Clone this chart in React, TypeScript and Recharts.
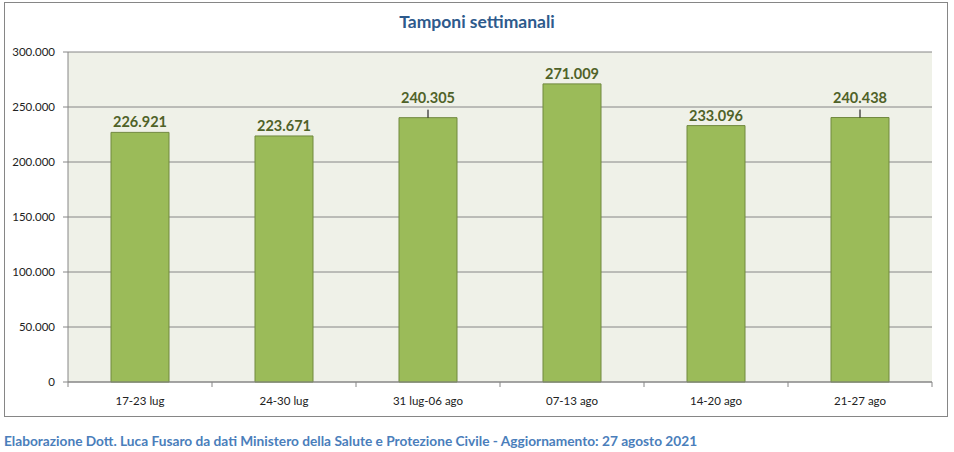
import React from "react";
import { BarChart, Bar, XAxis, YAxis, CartesianGrid, LabelList } from "recharts";

const categories = ["17-23 lug", "24-30 lug", "31 lug-06 ago", "07-13 ago", "14-20 ago", "21-27 ago"];
const tamponi = [226921, 223671, 240305, 271009, 233096, 240438];
const yTicks = [0, 50000, 100000, 150000, 200000, 250000, 300000];
const liftedLabels = ["31 lug-06 ago", "21-27 ago"];

const data = categories.map((c, i) => ({ cat: c, v: tamponi[i] }));

const W = 954;
const H = 452;
const LEFT = 68;
const RIGHT = 932;
const TOP = 52;
const BOTTOM = 382;
const BAND = (RIGHT - LEFT) / categories.length;
const FONT = "Lato, 'Open Sans', sans-serif";

const fmtDots = (n: number) => {
  const s = Math.round(n).toString();
  return s.replace(/\B(?=(\d{3})+(?!\d))/g, ".");
};

const XTick = (props: any) => {
  const { x, y, payload, index } = props;
  return (
    <g>
      <line x1={x - BAND / 2} y1={y} x2={x - BAND / 2} y2={y + 5} stroke="#868686" />
      {index === categories.length - 1 && (
        <line x1={x + BAND / 2} y1={y} x2={x + BAND / 2} y2={y + 5} stroke="#868686" />
      )}
      <text x={x} y={y + 23} textAnchor="middle" fontSize={11.5} fontFamily={FONT} fill="#222">
        {payload.value}
      </text>
    </g>
  );
};

const BarLabel = (props: any) => {
  const { x, y, width, value, index } = props;
  const cx = x + width / 2;
  const lifted = liftedLabels.includes(categories[index]);
  const by = lifted ? y - 15 : y - 5;
  return (
    <g>
      {lifted && <line x1={cx} y1={y - 8} x2={cx} y2={y} stroke="#000" strokeWidth={1} />}
      <text
        x={cx}
        y={by}
        textAnchor="middle"
        fontSize={14.5}
        fontWeight="bold"
        fontFamily={FONT}
        fill="#4F6228"
      >
        {fmtDots(value)}
      </text>
    </g>
  );
};

export default function App() {
  return (
    <div style={{ position: "absolute", left: 0, top: 0, width: W, height: H, background: "#fff" }}>
      <div
        style={{
          position: "absolute",
          left: 4,
          top: 2,
          width: 942,
          height: 413,
          border: "1px solid #868686",
        }}
      />
      <div
        style={{
          position: "absolute",
          left: 0,
          top: 11,
          width: 954,
          textAlign: "center",
          fontFamily: FONT,
          fontWeight: "bold",
          fontSize: 17.5,
          lineHeight: "22px",
          color: "#2E5A8C",
        }}
      >
        Tamponi settimanali
      </div>
      <div style={{ position: "absolute", left: 0, top: 0 }}>
        <BarChart width={W} height={H} data={data} margin={{ top: TOP, right: W - RIGHT, left: 0, bottom: 0 }}>
          <CartesianGrid vertical={false} stroke="#868686" fill="#EFF1E8" />
          <XAxis
            dataKey="cat"
            axisLine={{ stroke: "#868686" }}
            tickLine={false}
            tickSize={0}
            tickMargin={0}
            height={H - BOTTOM}
            tick={<XTick />}
            interval={0}
          />
          <YAxis
            width={LEFT}
            domain={[0, 300000]}
            ticks={yTicks}
            tickFormatter={(v: number) => (v === 0 ? "0" : fmtDots(v))}
            axisLine={{ stroke: "#868686" }}
            tickLine={{ stroke: "#868686" }}
            tickSize={5}
            tickMargin={8}
            tick={{ fontSize: 11.5, fontFamily: FONT, fill: "#222" }}
          />
          <Bar dataKey="v" fill="#9BBB59" stroke="#71893F" strokeWidth={1} barSize={58} isAnimationActive={false}>
            <LabelList dataKey="v" content={<BarLabel />} />
          </Bar>
        </BarChart>
      </div>
      <div
        style={{
          position: "absolute",
          left: 4,
          top: 432,
          fontFamily: FONT,
          fontWeight: "bold",
          fontSize: 13.7,
          lineHeight: "18px",
          color: "#4A7EBB",
          whiteSpace: "nowrap",
        }}
      >
        Elaborazione Dott. Luca Fusaro da dati Ministero della Salute e Protezione Civile - Aggiornamento: 27 agosto 2021
      </div>
    </div>
  );
}
